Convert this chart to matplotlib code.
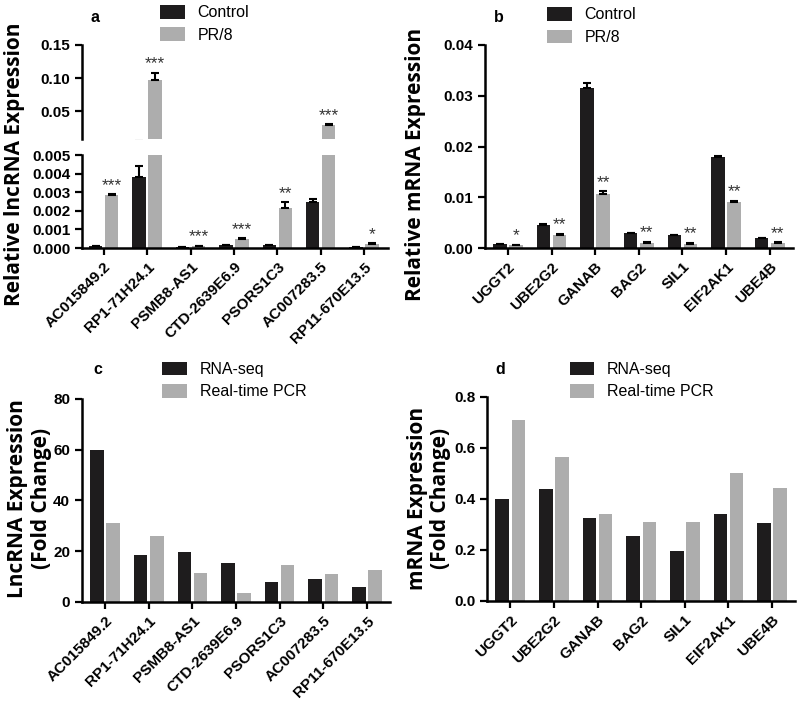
import numpy as np
import matplotlib
matplotlib.use("Agg")
import matplotlib.pyplot as plt
from matplotlib.patches import Patch

plt.rcParams["font.family"] = ["Liberation Sans", "DejaVu Sans"]

DARK = "#1e1c1d"
GREY = "#adadad"

# panel a: lncRNA relative expression
lnc_genes = ["AC015849.2", "RP1-71H24.1", "PSMB8-AS1", "CTD-2639E6.9",
             "PSORS1C3", "AC007283.5", "RP11-670E13.5"]
lnc_control = [0.0001, 0.0038, 0.00003, 0.00015, 0.00015, 0.0025, 0.00003]
lnc_control_err = [0.00001, 0.0006, 0.00001, 0.00002, 0.00002, 0.00015, 0.00001]
lnc_pr8 = [0.00285, 0.097, 0.0001, 0.0005, 0.00215, 0.029, 0.0002]
lnc_pr8_err = [0.00003, 0.011, 0.00003, 0.00003, 0.0003, 0.001, 0.00005]
lnc_stars = ["***", "***", "***", "***", "**", "***", "*"]

# panel b: mRNA relative expression
mrna_genes = ["UGGT2", "UBE2G2", "GANAB", "BAG2", "SIL1", "EIF2AK1", "UBE4B"]
mrna_control = [0.0007, 0.0046, 0.0315, 0.003, 0.0025, 0.018, 0.002]
mrna_control_err = [0.00005, 0.00005, 0.001, 0.00005, 0.00005, 0.0002, 0.00005]
mrna_pr8 = [0.0005, 0.0026, 0.0107, 0.001, 0.0008, 0.009, 0.0009]
mrna_pr8_err = [0.0001, 0.0002, 0.0005, 0.0002, 0.0002, 0.0003, 0.0002]
mrna_stars = ["*", "**", "**", "**", "**", "**", "**"]

# panel c / d: fold change, RNA-seq vs real-time PCR
lnc_seq = [60, 18.5, 19.5, 15.5, 8, 9, 6]
lnc_pcr = [31, 26, 11.5, 3.5, 14.5, 11, 12.5]
mrna_seq = [0.40, 0.44, 0.325, 0.255, 0.195, 0.34, 0.305]
mrna_pcr = [0.71, 0.565, 0.34, 0.31, 0.31, 0.50, 0.445]

W = 0.31
OFF = 0.185
TICK_FONT = dict(fontsize=11, fontweight="bold")
YLAB_FONT = dict(fontsize=15, fontweight="bold", family="Open Sans")


def style(ax, bottom=True):
    for s in ["top", "right"]:
        ax.spines[s].set_visible(False)
    ax.spines["left"].set_linewidth(1.8)
    ax.spines["bottom"].set_linewidth(1.8)
    ax.tick_params(axis="both", direction="out", length=5, width=1.6)
    for lab in ax.get_yticklabels():
        lab.set_fontweight("bold")
        lab.set_fontsize(11)
    if not bottom:
        ax.spines["bottom"].set_visible(False)
        ax.tick_params(axis="x", bottom=False, labelbottom=False)


def xlabels(ax, names):
    ax.set_xticks(np.arange(len(names)))
    ax.set_xticklabels(names, rotation=45, ha="right", rotation_mode="anchor", **TICK_FONT)


def bars(ax, a, b, aerr=None, berr=None):
    x = np.arange(len(a))
    ekw = dict(ecolor="black", elinewidth=1.5, capsize=3, capthick=1.5)
    ax.bar(x - OFF, a, W, color=DARK,
           yerr=None if aerr is None else [np.zeros(len(a)), aerr], error_kw=ekw)
    ax.bar(x + OFF, b, W, color=GREY,
           yerr=None if berr is None else [np.zeros(len(b)), berr], error_kw=ekw)


def star(ax, x, y, mark):
    ax.annotate(mark, (x, y), xytext=(0, 1), textcoords="offset points",
                ha="center", va="bottom", fontsize=12.5, color="#333333")


def legend(fig, x, y, labels):
    handles = [Patch(facecolor=DARK), Patch(facecolor=GREY)]
    fig.legend(handles, labels, loc="upper left", bbox_to_anchor=(x, y),
               frameon=False, fontsize=11.5, handlelength=1.55, handleheight=0.95,
               handletextpad=0.8, labelspacing=0.45, borderaxespad=0, borderpad=0)


fig = plt.figure(figsize=(8, 7.02), dpi=100)

# ---- panel a (broken axis) ----
ax_up = fig.add_axes([0.1025, 0.802, 0.3825, 0.134])
ax_lo = fig.add_axes([0.1025, 0.6467, 0.3825, 0.1325])
for ax in (ax_up, ax_lo):
    bars(ax, lnc_control, lnc_pr8, lnc_control_err, lnc_pr8_err)
    ax.set_xlim(-0.5, 6.55)
ax_up.set_ylim(0.008, 0.15)
ax_up.set_yticks([0.05, 0.10, 0.15])
ax_up.set_yticklabels(["0.05", "0.10", "0.15"])
ax_lo.set_ylim(0, 0.005)
ax_lo.set_yticks(np.arange(0, 0.0051, 0.001))
ax_lo.set_yticklabels([f"{v:.3f}" for v in np.arange(0, 0.0051, 0.001)])
for i, (v, e, m) in enumerate(zip(lnc_pr8, lnc_pr8_err, lnc_stars)):
    star(ax_lo if v + e <= 0.005 else ax_up, i + OFF, v + e, m)
style(ax_up, bottom=False)
style(ax_lo)
xlabels(ax_lo, lnc_genes)
fig.text(0.018, 0.766, "Relative lncRNA Expression", rotation=90, ha="center",
         va="center", **YLAB_FONT)
fig.text(0.113, 0.975, "a", fontsize=11.5, fontweight="bold", va="center")
legend(fig, 0.2, 0.993, ["Control", "PR/8"])

# ---- panel b ----
ax_b = fig.add_axes([0.606, 0.6467, 0.385, 0.2892])
bars(ax_b, mrna_control, mrna_pr8, mrna_control_err, mrna_pr8_err)
ax_b.set_xlim(-0.53, 6.53)
ax_b.set_ylim(0, 0.04)
ax_b.set_yticks([0, 0.01, 0.02, 0.03, 0.04])
ax_b.set_yticklabels(["0.00", "0.01", "0.02", "0.03", "0.04"])
for i, (v, e, m) in enumerate(zip(mrna_pr8, mrna_pr8_err, mrna_stars)):
    star(ax_b, i + OFF, v + e, m)
style(ax_b)
xlabels(ax_b, mrna_genes)
fig.text(0.52, 0.766, "Relative mRNA Expression", rotation=90, ha="center",
         va="center", **YLAB_FONT)
fig.text(0.617, 0.975, "b", fontsize=11.5, fontweight="bold", va="center")
legend(fig, 0.684, 0.99, ["Control", "PR/8"])

# ---- panel c ----
ax_c = fig.add_axes([0.1025, 0.1425, 0.385, 0.2892])
bars(ax_c, lnc_seq, lnc_pcr)
ax_c.set_xlim(-0.53, 6.53)
ax_c.set_ylim(0, 80)
ax_c.set_yticks([0, 20, 40, 60, 80])
style(ax_c)
xlabels(ax_c, lnc_genes)
fig.text(0.037, 0.29, "LncRNA Expression\n(Fold Change)", rotation=90, ha="center",
         va="center", linespacing=1.15, **YLAB_FONT)
fig.text(0.117, 0.473, "c", fontsize=11.5, fontweight="bold", va="center")
legend(fig, 0.2025, 0.485, ["RNA-seq", "Real-time PCR"])

# ---- panel d ----
ax_d = fig.add_axes([0.609, 0.1439, 0.385, 0.2906])
bars(ax_d, mrna_seq, mrna_pcr)
ax_d.set_xlim(-0.53, 6.53)
ax_d.set_ylim(0, 0.8)
ax_d.set_yticks([0, 0.2, 0.4, 0.6, 0.8])
ax_d.set_yticklabels(["0.0", "0.2", "0.4", "0.6", "0.8"])
style(ax_d)
xlabels(ax_d, mrna_genes)
fig.text(0.536, 0.29, "mRNA Expression\n(Fold Change)", rotation=90, ha="center",
         va="center", linespacing=1.15, **YLAB_FONT)
fig.text(0.619, 0.473, "d", fontsize=11.5, fontweight="bold", va="center")
legend(fig, 0.712, 0.485, ["RNA-seq", "Real-time PCR"])

fig.savefig("out.png", dpi=100)
